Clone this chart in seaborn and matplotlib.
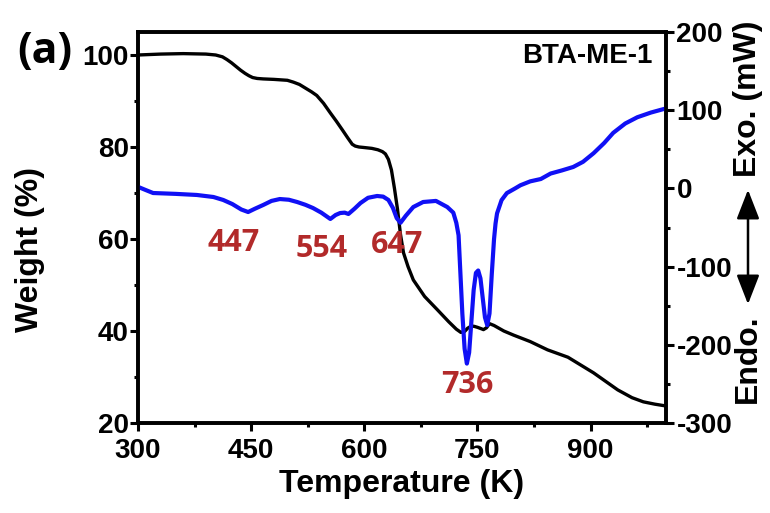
import matplotlib
matplotlib.use("Agg")
import matplotlib.pyplot as plt
import seaborn as sns
from matplotlib.ticker import MultipleLocator

# ---- data ----
tga_temp = [300, 330, 360, 390, 403, 412, 418, 424, 430, 436, 442, 447, 452, 458, 466, 480,
            498, 506, 514, 522, 530, 537, 546, 555, 563, 571, 578, 584, 588, 593, 599, 610,
            618, 624, 628, 632, 636, 640, 644, 648, 652, 658, 665, 680, 697, 712, 722, 728,
            733, 737, 742, 746, 750, 755, 758, 762, 766, 772, 785, 798, 820, 843, 870, 904,
            936, 955, 970, 985, 1000]
tga_weight = [100.0, 100.2, 100.3, 100.2, 100.0, 99.6, 99.0, 98.3, 97.5, 96.7, 96.0, 95.5,
              95.1, 94.9, 94.8, 94.7, 94.5, 94.1, 93.6, 92.8, 92.0, 91.2, 89.5, 87.4, 85.6,
              83.7, 82.0, 80.6, 80.2, 80.0, 79.9, 79.7, 79.4, 79.0, 78.5, 77.3, 75.0, 71.0,
              66.5, 61.0, 57.0, 54.0, 51.1, 47.5, 44.6, 42.0, 40.4, 39.7, 39.9, 40.6, 41.1,
              41.0, 40.8, 40.5, 40.3, 40.7, 41.6, 41.2, 40.0, 39.1, 37.7, 35.9, 34.3, 30.9,
              27.2, 25.5, 24.6, 24.1, 23.7]

dsc_temp = [300, 310, 320, 350, 378, 400, 413, 425, 437, 446, 455, 466, 477, 488, 500, 511,
            522, 532, 543, 555, 562, 568, 574, 579, 587, 595, 605, 617, 625, 632, 638, 643,
            648, 655, 665, 678, 695, 710, 718, 722, 725, 727, 730, 733, 736, 739, 742, 745,
            748, 751, 754, 757, 760, 763, 766, 769, 772, 774, 776, 782, 789, 800, 807, 820,
            834, 847, 862, 877, 890, 904, 918, 930, 946, 962, 980, 997, 1000]
dsc_heat = [2, -2, -5.9, -7, -8.4, -11, -14.8, -20, -27, -30.2, -26, -21.2, -16, -13.6, -14.5,
            -17.4, -21, -25.1, -31, -39.1, -34, -31.5, -31, -32.7, -26, -18.7, -12, -9.7,
            -10.5, -14.8, -25, -38, -44, -35, -23.8, -17.4, -16, -23.8, -31, -44, -60, -100,
            -160, -205, -224, -210, -170, -130, -108, -105, -115, -140, -165, -175, -160,
            -110, -65, -45, -32, -15, -6, 0, 4, 9, 12, 19, 23, 27.4, 34, 45, 58, 71, 83, 91,
            97, 101.5, 102]

peak_labels = ["447", "554", "647", "736"]
peak_x = [427, 543, 644, 737]
peak_y = [59.2, 57.8, 58.7, 28.3]

x_ticks = [300, 450, 600, 750, 900]
left_ticks = [20, 40, 60, 80, 100]
right_ticks = [-300, -200, -100, 0, 100, 200]

# ---- style ----
sns.set_style("ticks")
plt.rcParams["font.family"] = ["Liberation Sans", "DejaVu Sans"]
plt.rcParams["font.weight"] = "bold"
plt.rcParams["axes.unicode_minus"] = False
for key in ("text.color", "axes.labelcolor", "xtick.color", "ytick.color", "axes.edgecolor"):
    plt.rcParams[key] = "black"
plt.rcParams["lines.solid_joinstyle"] = "round"

fig = plt.figure(figsize=(7.7, 5.13), dpi=100)
ax = fig.add_axes([138/770, 1-423/513, (666-138)/770, (423-32)/513])
ax2 = ax.twinx()

sns.lineplot(x=tga_temp, y=tga_weight, ax=ax, color="black", lw=2.4, sort=False)
sns.lineplot(x=dsc_temp, y=dsc_heat, ax=ax2, color="#1010F5", lw=3.0, sort=False)

ax.set_xlim(300, 1000)
ax.set_ylim(20, 105)
ax2.set_ylim(-300, 200)

ax.set_xticks(x_ticks)
ax.set_yticks(left_ticks)
ax2.set_yticks(right_ticks)
ax.xaxis.set_minor_locator(MultipleLocator(75))
ax.yaxis.set_minor_locator(MultipleLocator(10))
ax2.yaxis.set_minor_locator(MultipleLocator(50))

for a in (ax, ax2):
    for s in a.spines.values():
        s.set_linewidth(2.6)
        s.set_visible(True)
        s.set_color("black")
    a.tick_params(which="major", direction="out", length=5.5, width=2.2, labelsize=20,
                  color="black", labelcolor="black")
    a.tick_params(which="minor", direction="out", length=3, width=2.2, color="black")
ax.tick_params(axis="y", pad=1)
ax.tick_params(axis="x", pad=5)
ax2.tick_params(axis="y", pad=2)
for lab in ax.get_xticklabels() + ax.get_yticklabels() + ax2.get_yticklabels():
    lab.set_fontweight("bold")

ax.set_xlabel("Temperature (K)", fontsize=23, fontweight="bold", labelpad=4, color="black")
ax.set_ylabel("Weight (%)", fontsize=23, fontweight="bold", color="black")
ax.yaxis.set_label_coords(-0.176, 0.445)
ax2.set_ylabel("")

pk_color = "#B22A2A"
for lbl, px, py in zip(peak_labels, peak_x, peak_y):
    ax.text(px, py, lbl, color=pk_color, fontsize=22, fontweight="bold",
            family=["Open Sans", "DejaVu Sans"], ha="center", va="center")

ax.text(982, 99.8, "BTA-ME-1", fontsize=20, fontweight="bold", ha="right", va="center",
        color="black")

fig.text(45/770, 1-52/513, "(a)", fontsize=31, fontweight="bold",
         family=["Open Sans", "DejaVu Sans"], ha="center", va="center", color="black")

fig.text(748/770, 1-177/513, "Exo. (mW)", rotation=90, fontsize=23, fontweight="bold",
         ha="center", va="bottom", color="black")
fig.text(748/770, 1-403/513, "Endo.", rotation=90, fontsize=23, fontweight="bold",
         ha="center", va="bottom", color="black")
fig.patches.append(matplotlib.patches.FancyArrowPatch(
    (748/770, 1-187/513), (748/770, 1-307/513), transform=fig.transFigure,
    arrowstyle="<|-|>,head_length=0.9,head_width=0.35", mutation_scale=20,
    color="black", lw=1.8))

fig.savefig("out.png", dpi=100)
